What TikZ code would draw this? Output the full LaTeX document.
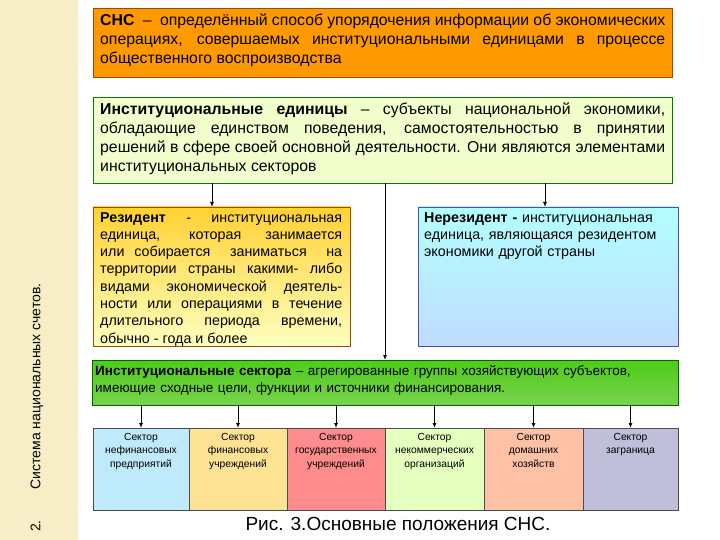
\documentclass[tikz,border=0pt]{standalone}
\usepackage{fontspec}
\setmainfont{Liberation Sans}
\usetikzlibrary{arrows.meta}
\begin{document}
\begin{tikzpicture}[x=1pt,y=-1pt,
  txt/.style={anchor=north west, align=justify, font=\fontsize{15.8}{18.8}\selectfont, inner sep=0pt},
  stxt/.style={anchor=north, align=center, font=\fontsize{10.3}{13.5}\selectfont, inner sep=0pt},
  arr/.style={-{Latex[length=5pt,width=4pt]}, line width=0.9pt}]
\useasboundingbox (0,0) rectangle (720,540);
\fill[white] (0,0) rectangle (720,540);
\fill[orange!15!yellow!20!white!90!brown] (0,0) rectangle (78,540);
\foreach \y in {0,4,...,540} \draw[white!85!brown, line width=0.4pt] (0,\y) -- (78,\y);
\node[rotate=90, anchor=west, font=\fontsize{14}{16}\selectfont, inner sep=0pt] (side) at (37,532) {2.\hspace{2.2em}Система национальных счетов.};

% top box
\fill[orange!80!yellow, draw=orange!60!black, line width=0.6pt] (93,8) rectangle (672,77);
\node[txt, text width=565] (t1) at (100,14) {\textbf{СНС} \ – \ определённый способ упорядочения информации об экономических операциях, совершаемых институциональными единицами в процессе общественного воспроизводства};
% green box
\fill[green!25!yellow!20!white, draw=green!50!black, line width=0.6pt] (93,97) rectangle (672,183);
\coordinate (g1) at (212,183); \coordinate (g2) at (545,183); \coordinate (g3) at (385,183);
\node[txt, text width=565] (t2) at (100,103) {\textbf{Институциональные единицы} – субъекты национальной экономики, обладающие единством поведения, самостоятельностью в принятии решений в сфере своей основной деятельности. Они являются элементами институциональных секторов};
% resident
\shade[top color=orange!45!yellow!80!white, bottom color=yellow!25!white, draw=orange!60!black] (93,207) rectangle (350,346);
\coordinate (r) at (212,207);
\node[txt, text width=242, font=\fontsize{14.3}{17.3}\selectfont] (t3) at (100,212) {\textbf{Резидент} \ - \ институциональная единица, которая занимается или собирается \ заниматься \ на территории страны какими- либо видами \ экономической \ деятель-\linebreak ности или операциями в течение длительного \ периода \ времени, обычно - года и более};
% nonresident
\shade[top color=cyan!30!white, bottom color=cyan!45!blue!25!white, draw=blue!40!gray] (418,207) rectangle (678,346);
\coordinate (n) at (545,207);
\node[txt, text width=248, align=left, font=\fontsize{14.3}{17.3}\selectfont] (t4) at (424,212) {\textbf{Нерезидент -} институциональная единица, являющаяся резидентом экономики другой страны};
% sectors bar
\shade[top color=green!55!olive!90!white, bottom color=green!50!olive!70!white, draw=green!40!black] (92,360) rectangle (678,405);
\coordinate (s) at (385,360);
\node[txt, text width=580, align=left, font=\fontsize{13.5}{17}\selectfont] (t5) at (95,365) {\textbf{Институциональные сектора} – агрегированные группы хозяйствующих субъектов, имеющие сходные цели, функции и источники финансирования.};
\draw[arr] (g1) -- (r);
\draw[arr] (g2) -- (n);
\draw[arr] (g3) -- (s);
% small boxes
\foreach \a/\b/\c/\t [count=\i] in {
 93/189/cyan!25!white/{Сектор\\нефинансовых\\предприятий},
 189/287/yellow!50!orange!40!white/{Сектор\\финансовых\\учреждений},
 287/385/red!45!white/{Сектор\\государственных\\учреждений},
 385/484/green!40!yellow!25!white/{Сектор\\некоммерческих\\организаций},
 484/583/red!40!orange!35!white/{Сектор\\домашних\\хозяйств},
 583/678/blue!25!gray!40!white/{Сектор\\заграница}} {
  \fill[\c, draw=gray!60!black, line width=0.5pt] (\a,428) rectangle (\b,510);
  \node[stxt] (sb\i) at ({(\a+\b)/2},433) {\t};
  \coordinate (top\i) at ({(\a+\b)/2},428);
  \draw[arr] ({(\a+\b)/2},405) -- (top\i);
}
\node[font=\fontsize{19}{21}\selectfont, inner sep=0pt] (cap) at (398,524) {Рис. 3.Основные положения СНС.};
\end{tikzpicture}
\end{document}
